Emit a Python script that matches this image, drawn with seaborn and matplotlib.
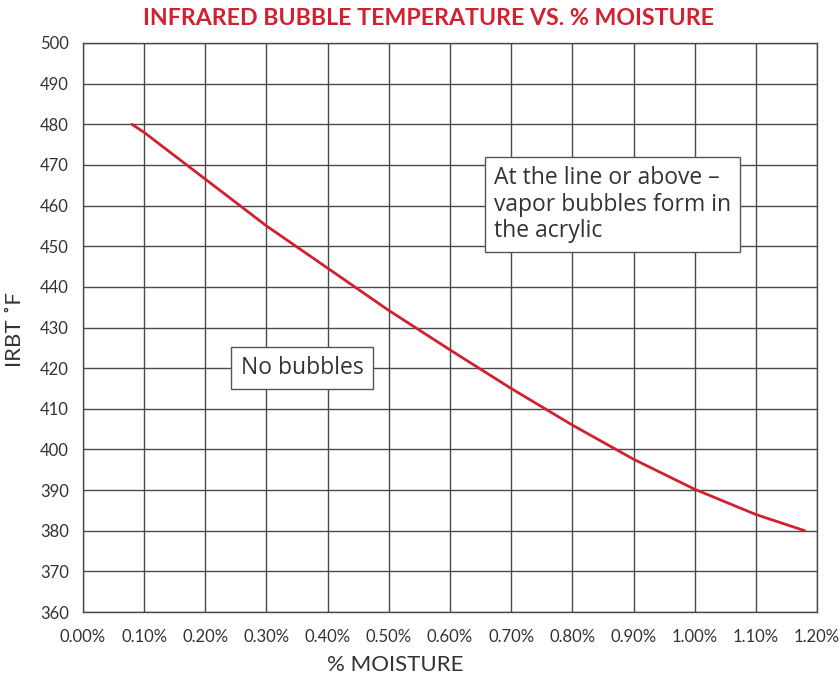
import matplotlib
matplotlib.use("Agg")
import matplotlib.pyplot as plt
import seaborn as sns
import pandas as pd
from matplotlib.ticker import FuncFormatter, MultipleLocator

# -----------------------
# Data
# -----------------------
moisture_pct = [0.08, 0.10, 0.20, 0.30, 0.40, 0.50, 0.60, 0.70, 0.80, 0.90, 1.00, 1.10, 1.18]
irbt_f = [480.0, 478.0, 466.5, 455.0, 444.6, 434.2, 424.5, 415.0, 406.0, 397.6, 390.2, 384.0, 380.0]

title = "INFRARED BUBBLE TEMPERATURE VS. % MOISTURE"
x_label = "% MOISTURE"
y_label = "IRBT ˚F"
note_below = "No bubbles"
note_above = "At the line or above –\nvapor bubbles form in\nthe acrylic"

df = pd.DataFrame({"moisture": moisture_pct, "irbt": irbt_f})

# -----------------------
# Style
# -----------------------
sns.set_style("white")
plt.rcParams["font.family"] = ["Open Sans", "DejaVu Sans"]

red = "#d3202f"
grid_col = "#4a4a4a"
text_col = "#333333"

fig = plt.figure(figsize=(8.39, 6.75), dpi=100)
ax = fig.add_axes([0.0989, 0.0933, 0.8749, 0.843])

sns.lineplot(data=df, x="moisture", y="irbt", color=red, linewidth=2, ax=ax)

ax.set_xlim(0, 1.2)
ax.set_ylim(360, 500)
ax.xaxis.set_major_locator(MultipleLocator(0.1))
ax.yaxis.set_major_locator(MultipleLocator(10))
ax.xaxis.set_major_formatter(FuncFormatter(lambda v, p: f"{v:.2f}%"))
ax.grid(True, color=grid_col, linewidth=1)
ax.set_axisbelow(True)
for s in ax.spines.values():
    s.set_color(grid_col)
    s.set_linewidth(1)
ax.tick_params(length=0, labelsize=12, labelcolor=text_col, pad=12)
ax.tick_params(axis="y", pad=10)
for lbl in ax.get_xticklabels() + ax.get_yticklabels():
    lbl.set_fontfamily(["Lato", "DejaVu Sans"])

ax.set_xlabel(x_label, fontsize=16, color=text_col, family=["Lato", "DejaVu Sans"])
ax.set_ylabel(y_label, fontsize=16, color=text_col, family=["Lato", "DejaVu Sans"])
ax.xaxis.set_label_coords(0.426, -0.076)
ax.yaxis.set_label_coords(-0.0926, 0.497)
ax.yaxis.label.set_va("center")

fig.suptitle(title, x=0.511, y=0.988, fontsize=16.7, fontweight="bold", color=red,
             family=["Lato", "DejaVu Sans"])

box = dict(boxstyle="square,pad=0.4", facecolor="white", edgecolor="#555555", linewidth=1)
ax.text(0.358, 420, note_below, fontsize=16.5, color=text_col, ha="center", va="center", bbox=box)
ax.text(0.672, 469.7, note_above, fontsize=16.5, color=text_col, ha="left", va="top",
        linespacing=1.14, bbox=box)

fig.savefig("out.png", dpi=100)
